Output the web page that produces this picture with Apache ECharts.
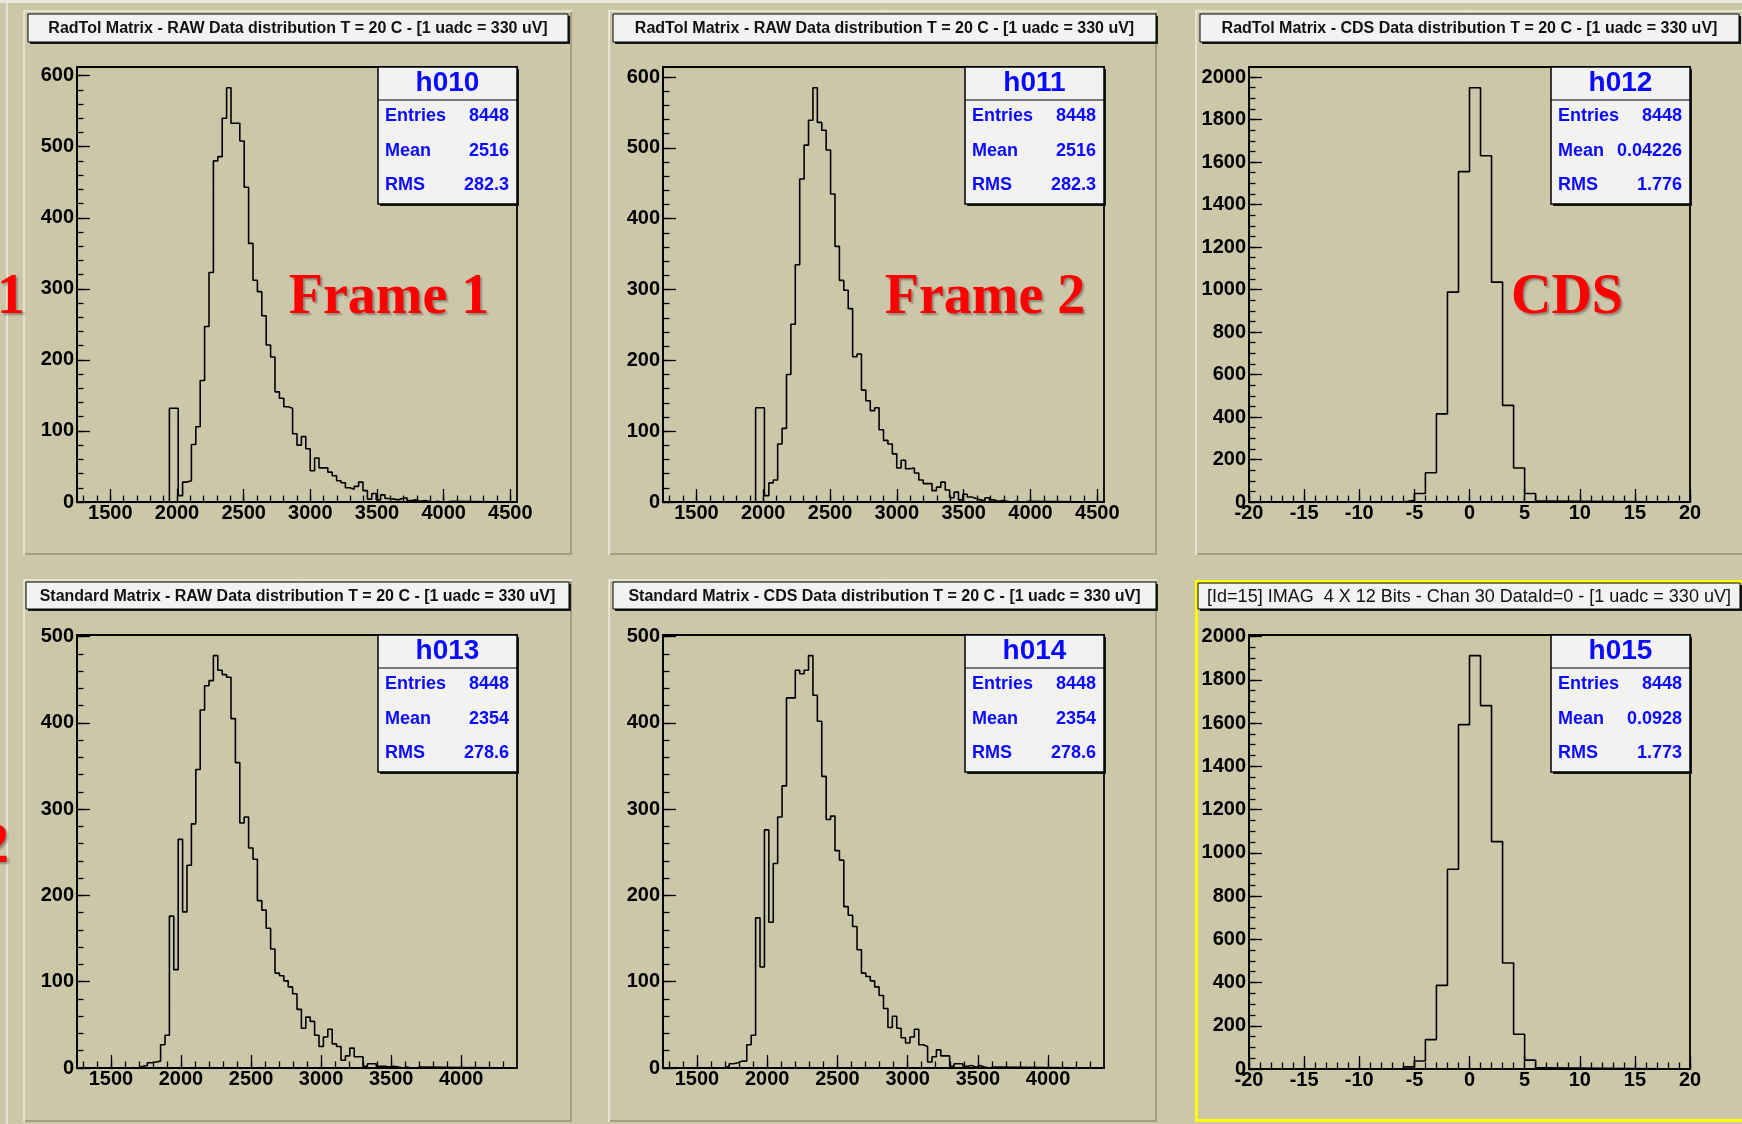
<!DOCTYPE html>
<html><head><meta charset="utf-8">
<script src="https://cdn.jsdelivr.net/npm/echarts@6/dist/echarts.min.js"></script>
<style>html,body{margin:0;padding:0;background:#cdc7aa;}#c{width:1742px;height:1124px;}</style>
</head><body><div id="c"></div>
<script>
// ---------------- DATA ----------------
const titles = [
  'RadTol Matrix - RAW Data distribution T = 20 C - [1 uadc = 330 uV]',
  'RadTol Matrix - RAW Data distribution T = 20 C - [1 uadc = 330 uV]',
  'RadTol Matrix - CDS Data distribution T = 20 C - [1 uadc = 330 uV]',
  'Standard Matrix - RAW Data distribution T = 20 C - [1 uadc = 330 uV]',
  'Standard Matrix - CDS Data distribution T = 20 C - [1 uadc = 330 uV]',
  '[Id=15] IMAG  4 X 12 Bits - Chan 30 DataId=0 - [1 uadc = 330 uV]'
];
const histNames = ['h010', 'h011', 'h012', 'h013', 'h014', 'h015'];
const statEntries = ['8448', '8448', '8448', '8448', '8448', '8448'];
const statMean = ['2516', '2516', '0.04226', '2354', '2354', '0.0928'];
const statRms = ['282.3', '282.3', '1.776', '278.6', '278.6', '1.773'];
const bigLabels = ['Frame 1', 'Frame 2', 'CDS'];
const sideLabels = ['1', '2'];

// histogram binning (axis range, bin start/width, index of first listed bin)
const h010Range = [1250, 4550], h010Bin = [1250, 33], h010First = 21;
const h010Counts = [132,132,9,28,30,81,106,171,247,323,480,486,540,583,533,533,508,443,364,312,296,262,221,204,155,146,134,132,96,80,92,75,44,62,48,48,42,37,30,27,20,18,22,28,16,4,12,3,10,5,4,3,5,6,2,3,1,2,1,0,1,0,0,1];

const h011Range = [1250, 4550], h011Bin = [1250, 33], h011First = 21;
const h011Counts = [133,133,9,27,31,82,104,180,251,335,456,504,539,585,536,525,497,435,361,313,299,273,205,209,158,143,129,133,102,87,82,68,48,59,47,48,41,31,26,26,16,21,28,17,6,14,3,11,7,5,3,2,6,3,1,2,1,0,1,0,0,1];

const h012Range = [-20, 20], h012Bin = [-20, 1], h012First = 14;
const h012Counts = [8,40,138,415,988,1555,1950,1630,1035,455,160,40,5];

const h013Range = [1258, 4398], h013Bin = [1258, 31.4], h013First = 14;
const h013Counts = [2,3,6,7,8,27,38,176,114,265,181,235,283,346,415,443,449,478,461,456,453,405,354,284,291,255,242,194,183,162,138,110,107,101,94,86,68,46,59,54,38,25,36,45,28,25,9,14,23,13,13,2,5,5,2,2,1,2,1,0,1,0,0,1];

const h014Range = [1258, 4398], h014Bin = [1258, 31.4], h014First = 14;
const h014Counts = [2,5,6,8,8,27,38,174,117,276,169,237,291,327,429,429,461,457,461,478,432,402,338,288,292,252,241,187,177,164,137,110,106,101,94,84,69,47,60,46,35,29,36,45,27,25,7,13,21,14,14,2,5,5,2,3,1,3,1,0,1];

const h015Range = [-20, 20], h015Bin = [-20, 1], h015First = 14;
const h015Counts = [10,37,136,387,924,1593,1912,1681,1052,490,161,41,5];

// tick labels
const xTicksRad = [1500, 2000, 2500, 3000, 3500, 4000, 4500];
const xTicksStd = [1500, 2000, 2500, 3000, 3500, 4000];
const xTicksCds = [-20, -15, -10, -5, 0, 5, 10, 15, 20];
const yTicks600 = [0, 100, 200, 300, 400, 500, 600];
const yTicks500 = [0, 100, 200, 300, 400, 500];
const yTicks2000 = [0, 200, 400, 600, 800, 1000, 1200, 1400, 1600, 1800, 2000];
const xMinorStepRaw = 100, xMinorStepCds = 1, yMinorStepRaw = 20, yMinorStepCds = 50;

// ---------------- LAYOUT ----------------
const SANS = '"Liberation Sans", Arial, Helvetica, sans-serif';
const SERIF = '"Liberation Serif", "Times New Roman", serif';
const BG = '#cdc7aa';
const pads = [
  {x:23,y:10,w:549,h:545},{x:608,y:10,w:549,h:545},{x:1195,y:10,w:549,h:545},
  {x:23,y:579,w:549,h:543},{x:608,y:579,w:549,h:543},{x:1195,y:580,w:549,h:542}
];
const frames = [
  {x:77,y:67,w:440,h:435},{x:663,y:67,w:441,h:435},{x:1249,y:67,w:441,h:435},
  {x:77,y:635,w:440,h:433},{x:663,y:635,w:441,h:433},{x:1249,y:635,w:441,h:434}
];
const titleBoxes = [
  {x:28,y:14,w:540,h:28},{x:613,y:14,w:543,h:28},{x:1200,y:14,w:539,h:28},
  {x:26,y:582,w:543,h:27},{x:613,y:582,w:543,h:27},{x:1198,y:583,w:542,h:26}
];
const titleFonts = ['bold 16px','bold 16px','bold 16px','bold 16px','bold 16px','18px'];
const bigLabelPos = [{x:389,y:299},{x:985,y:299},{x:1567,y:299}];

const panels = [
  {range:h010Range, bin:h010Bin, first:h010First, counts:h010Counts, xt:xTicksRad, yt:yTicks600, xm:xMinorStepRaw, ym:yMinorStepRaw},
  {range:h011Range, bin:h011Bin, first:h011First, counts:h011Counts, xt:xTicksRad, yt:yTicks600, xm:xMinorStepRaw, ym:yMinorStepRaw},
  {range:h012Range, bin:h012Bin, first:h012First, counts:h012Counts, xt:xTicksCds, yt:yTicks2000, xm:xMinorStepCds, ym:yMinorStepCds},
  {range:h013Range, bin:h013Bin, first:h013First, counts:h013Counts, xt:xTicksStd, yt:yTicks500, xm:xMinorStepRaw, ym:yMinorStepRaw},
  {range:h014Range, bin:h014Bin, first:h014First, counts:h014Counts, xt:xTicksStd, yt:yTicks500, xm:xMinorStepRaw, ym:yMinorStepRaw},
  {range:h015Range, bin:h015Bin, first:h015First, counts:h015Counts, xt:xTicksCds, yt:yTicks2000, xm:xMinorStepCds, ym:yMinorStepCds}
];

function minorTicks(lo, hi, step) {
  const out = [];
  const s = Math.ceil(lo / step - 1e-9) * step;
  for (let v = s; v <= hi + 1e-9; v += step) out.push(Math.round(v * 1000) / 1000);
  return out;
}

const grids = [], xAxes = [], yAxes = [], series = [];
const tickStyle = {color:'#000', width:1.3};
const labelStyle = {color:'#000', fontSize:20, fontWeight:'bold', fontFamily:SANS, formatter: v => String(v)};

panels.forEach((p, i) => {
  const f = frames[i];
  grids.push({left:f.x, top:f.y, width:f.w, height:f.h, show:true, borderColor:'#000', borderWidth:1.8, backgroundColor:'transparent'});
  const yMax = Math.max(...p.counts) * 1.05;
  const xMin = p.range[0], xMax = p.range[1];
  xAxes.push({type:'value', gridIndex:i, position:'bottom', min:xMin, max:xMax,
    axisLine:{show:true, onZero:false, lineStyle:{color:'#000', width:1.8}},
    axisTick:{show:true, inside:true, length:13, lineStyle:tickStyle, customValues:p.xt},
    axisLabel:Object.assign({show:true, margin:1, customValues:p.xt}, labelStyle),
    splitLine:{show:false}});
  xAxes.push({type:'value', gridIndex:i, position:'bottom', min:xMin, max:xMax,
    axisLine:{show:false, onZero:false},
    axisTick:{show:true, inside:true, length:6.5, lineStyle:tickStyle, customValues:minorTicks(xMin, xMax, p.xm)},
    axisLabel:{show:false}, splitLine:{show:false}});
  yAxes.push({type:'value', gridIndex:i, position:'left', min:0, max:yMax,
    axisLine:{show:true, onZero:false, lineStyle:{color:'#000', width:1.8}},
    axisTick:{show:true, inside:true, length:13, lineStyle:tickStyle, customValues:p.yt},
    axisLabel:Object.assign({show:true, margin:3, customValues:p.yt}, labelStyle),
    splitLine:{show:false}});
  yAxes.push({type:'value', gridIndex:i, position:'left', min:0, max:yMax,
    axisLine:{show:false, onZero:false},
    axisTick:{show:true, inside:true, length:6.5, lineStyle:tickStyle, customValues:minorTicks(0, yMax, p.ym)},
    axisLabel:{show:false}, splitLine:{show:false}});
  const pts = [[xMin, 0]];
  p.counts.forEach((c, k) => pts.push([p.bin[0] + (p.first + k) * p.bin[1], c]));
  pts.push([p.bin[0] + (p.first + p.counts.length) * p.bin[1], 0]);
  pts.push([xMax, 0]);
  series.push({type:'line', xAxisIndex:2*i, yAxisIndex:2*i, data:pts, step:'end', symbol:'none',
    lineStyle:{color:'#000', width:1.6}, silent:true, animation:false, z:5});
});

// ---------------- GRAPHICS ----------------
const g = [];
g.push({type:'rect', shape:{x:0,y:0,width:1742,height:3}, style:{fill:'#e9e7de'}, z:-20, silent:true});
g.push({type:'rect', shape:{x:6,y:3,width:2,height:1121}, style:{fill:'#e6e2d2'}, z:-20, silent:true});
pads.forEach((pd, i) => {
  g.push({type:'rect', shape:{x:pd.x,y:pd.y,width:pd.w,height:pd.h}, style:{fill:BG}, z:-10, silent:true});
  if (i === 5) {
    g.push({type:'rect', shape:{x:pd.x+1.5,y:pd.y+1.5,width:pd.w,height:pd.h-3}, style:{fill:'none', stroke:'#ffff00', lineWidth:3}, z:-9, silent:true});
  } else {
    g.push({type:'polyline', shape:{points:[[pd.x+1,pd.y+pd.h],[pd.x+1,pd.y+1],[pd.x+pd.w,pd.y+1]]}, style:{stroke:'#e7e3d3', lineWidth:2, fill:'none'}, z:-9, silent:true});
    g.push({type:'polyline', shape:{points:[[pd.x+2,pd.y+pd.h-1],[pd.x+pd.w-1,pd.y+pd.h-1],[pd.x+pd.w-1,pd.y+2]]}, style:{stroke:'#a49e7e', lineWidth:2, fill:'none'}, z:-9, silent:true});
  }
});
titleBoxes.forEach((tb, i) => {
  g.push({type:'rect', shape:{x:tb.x+2,y:tb.y+2,width:tb.w,height:tb.h}, style:{fill:'#1a1a1a'}, z:50, silent:true});
  g.push({type:'rect', shape:{x:tb.x,y:tb.y,width:tb.w,height:tb.h}, style:{fill:'#f2f2f0', stroke:'#000', lineWidth:1}, z:51, silent:true});
  g.push({type:'text', x:tb.x+tb.w/2, y:tb.y+tb.h/2+1, z:52, silent:true,
    style:{text:titles[i], font:titleFonts[i]+' '+SANS, fill:'#111', align:'center', verticalAlign:'middle', textAlign:'center', textVerticalAlign:'middle'}});
});
frames.forEach((f, i) => {
  const bw = 139, bh = 137, bx = f.x + f.w - bw, by = f.y;
  g.push({type:'rect', shape:{x:bx+2,y:by+2,width:bw,height:bh}, style:{fill:'#1a1a1a'}, z:60, silent:true});
  g.push({type:'rect', shape:{x:bx,y:by,width:bw,height:bh}, style:{fill:'#f2f2f0', stroke:'#000', lineWidth:1.5}, z:61, silent:true});
  g.push({type:'line', shape:{x1:bx,y1:by+33,x2:bx+bw,y2:by+33}, style:{stroke:'#000', lineWidth:1.2}, z:62, silent:true});
  const blue = '#0a0aff';
  const txt = (t, x, y, font, al) => g.push({type:'text', x, y, z:63, silent:true,
    style:{text:t, font:font, fill:blue, align:al, verticalAlign:'middle', textAlign:al, textVerticalAlign:'middle'}});
  txt(histNames[i], bx+bw/2, by+16, 'bold 28px '+SANS, 'center');
  const rows = [['Entries', statEntries[i], 49], ['Mean', statMean[i], 84], ['RMS', statRms[i], 118]];
  rows.forEach(r => { txt(r[0], bx+7, by+r[2], 'bold 18px '+SANS, 'left'); txt(r[1], bx+bw-8, by+r[2], 'bold 18px '+SANS, 'right'); });
});
const redStyle = (t, al) => ({text:t, font:'bold 56px '+SERIF, fill:'#ff0000', align:al, verticalAlign:'middle', textAlign:al, textVerticalAlign:'middle',
  textShadowColor:'rgba(60,60,60,0.45)', textShadowBlur:2, textShadowOffsetX:2, textShadowOffsetY:2});
bigLabels.forEach((t, i) => g.push({type:'text', x:bigLabelPos[i].x, y:bigLabelPos[i].y, z:40, silent:true, style:redStyle(t, 'center')}));
g.push({type:'text', x:-3, y:299, z:40, silent:true, style:redStyle(sideLabels[0], 'left')});
g.push({type:'text', x:-19, y:848, z:40, silent:true, style:redStyle(sideLabels[1], 'left')});

const chart = echarts.init(document.getElementById('c'), null, {renderer:'canvas', width:1742, height:1124});
chart.setOption({
  backgroundColor: BG,
  animation: false,
  grid: grids, xAxis: xAxes, yAxis: yAxes, series: series,
  graphic: {elements: g}
});
</script></body></html>
